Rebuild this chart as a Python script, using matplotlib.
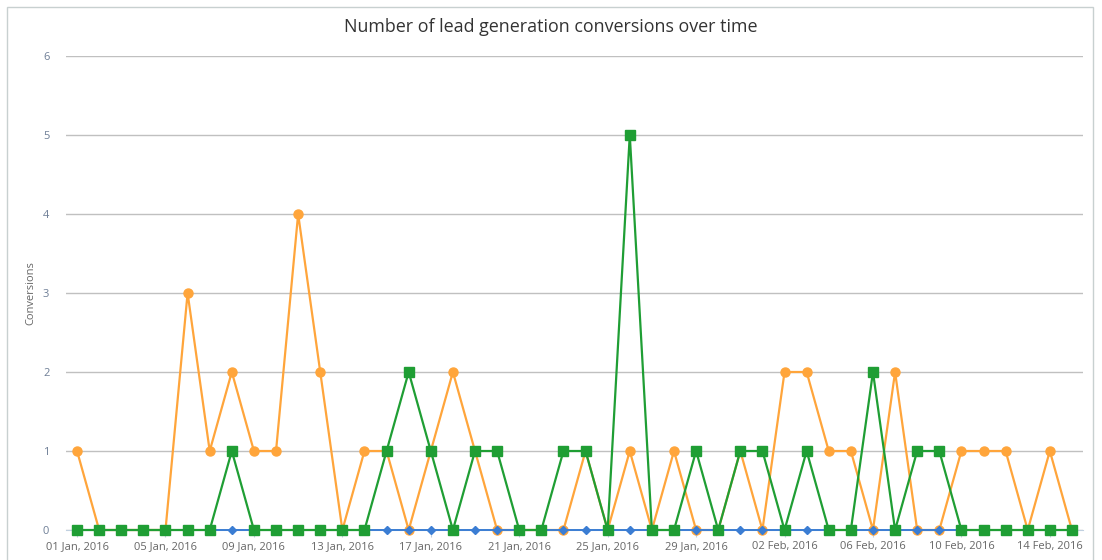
import matplotlib
matplotlib.use("Agg")
import matplotlib.pyplot as plt
from matplotlib.patches import Rectangle
import numpy as np
import pandas as pd

dates = pd.date_range("2016-01-01", "2016-02-15", freq="D")
orange_vals = [1, 0, 0, 0, 0, 3, 1, 2, 1, 1, 4, 2, 0, 1, 1, 0, 1, 2, 1, 0,
               0, 0, 0, 1, 0, 1, 0, 1, 0, 0, 1, 0, 2, 2, 1, 1, 0, 2, 0, 0,
               1, 1, 1, 0, 1, 0]
blue_vals = [0] * 46
green_vals = [0, 0, 0, 0, 0, 0, 0, 1, 0, 0, 0, 0, 0, 0, 1, 2, 1, 0, 1, 1,
              0, 0, 1, 1, 0, 5, 0, 0, 1, 0, 1, 1, 0, 1, 0, 0, 2, 0, 1, 1,
              0, 0, 0, 0, 0, 0]
y_ticks = [0, 1, 2, 3, 4, 5, 6]
title = "Number of lead generation conversions over time"
y_label = "Conversions"

plt.rcParams['font.family'] = ['Open Sans', 'DejaVu Sans']

fig = plt.figure(figsize=(11.02, 5.6), dpi=100)
fig.patch.set_facecolor("white")
W, H = 1102, 560
ax = fig.add_axes([66 / W, (H - 530) / H, (1083 - 66) / W, (530 - 56) / H])

x = np.arange(len(dates))
ax.plot(x, orange_vals, color="#ffa53b", lw=1.6, marker="o", markersize=6.5,
        clip_on=False, zorder=3)
ax.plot(x, blue_vals, color="#3b7dd3", lw=1.4, marker="D", markersize=4.2,
        clip_on=False, zorder=4)
ax.plot(x, green_vals, color="#1f9e34", lw=1.6, marker="s", markersize=6.5,
        clip_on=False, zorder=5)

ax.set_xlim(-0.5, len(dates) - 0.5)
ax.set_ylim(0, 6)
ax.set_yticks(y_ticks)
ax.set_yticklabels([str(v) for v in y_ticks], fontsize=8, color="#6e7e96")
tick_idx = x[::4]
ax.set_xticks(tick_idx)
ax.set_xticklabels([dates[i].strftime("%d %b, %Y") for i in tick_idx],
                   fontsize=8, color="#666666")
ax.grid(axis="y", color="#c0c0c0", lw=1)
ax.set_axisbelow(True)
for s in ["top", "right", "left"]:
    ax.spines[s].set_visible(False)
ax.spines["bottom"].set_color("#c0d0e0")
ax.tick_params(axis="y", length=0, pad=12)
ax.tick_params(axis="x", length=5, color="#c0d0e0", pad=3)
ax.set_facecolor("none")

fig.text(31 / W, 1 - 293 / H, y_label, rotation=90, ha="center", va="center",
         fontsize=8, color="#666666")
fig.text(551 / W, 1 - 27 / H, title, ha="center", va="center",
         fontsize=12.9, color="#333333")

fig.patches.append(Rectangle((7 / W, -0.1), (1093 - 7) / W, (1 - 7 / H) + 0.1,
                             transform=fig.transFigure, fill=False,
                             edgecolor="#c8d0d0", lw=1, zorder=0))

fig.savefig("out.png", dpi=100)
